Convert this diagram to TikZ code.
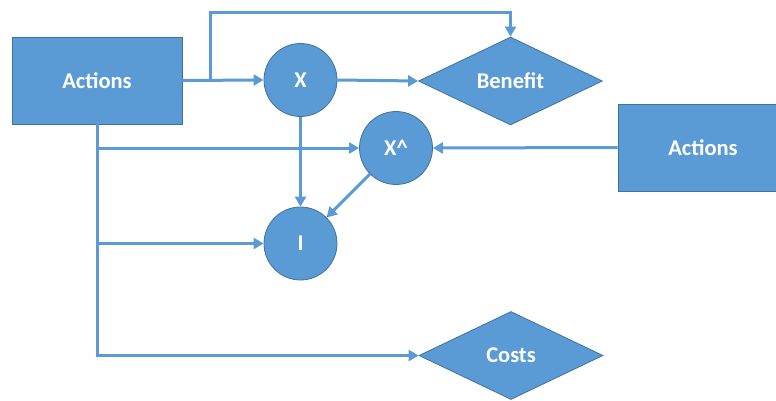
\documentclass[tikz,border=0pt]{standalone}
\usepackage{fontspec}
\setmainfont{Carlito}
\usetikzlibrary{shapes.geometric,arrows.meta}
\definecolor{officeblue}{HTML}{5B9BD5}
\definecolor{officeedge}{HTML}{41719C}
\begin{document}
\begin{tikzpicture}[x=1pt,y=-1pt,
  shape base/.style={draw=officeedge,fill=officeblue,text=white,line width=0.8pt,inner sep=0pt,
    font=\bfseries\fontsize{22.5}{26}\selectfont},
  actbox/.style={shape base,rectangle,minimum width=170pt,minimum height=87pt},
  var/.style={shape base,circle,minimum size=73pt},
  goal/.style={shape base,diamond,aspect=2.08,minimum width=184pt,minimum height=88pt},
  link/.style={draw=officeblue,line width=3pt,-{Triangle[length=10pt,width=11pt]}}]
\useasboundingbox (0,0) rectangle (776,401);
% nodes
\node[actbox] (act) at (97,80.5) {Actions};
\node[actbox] (act2) at (703,147.5) {Actions};
\node[var] (x) at (300.5,80) {X};
\node[var] (xh) at (396,148) {X\textasciicircum};
\node[var] (i) at (300.5,243.5) {I};
\node[goal] (ben) at (510.5,81) {Benefit};
\node[goal] (cost) at (511,355.5) {Costs};
% helper points
\coordinate (split) at (210,80);
\coordinate (over) at (210,13);
% links
\draw[link] (act.east) -- (x.west);
\draw[link] (split) -- (over) -| (ben.north);
\draw[link] (x.east) -- (ben.west);
\draw[link] (x.south) -- (i.north);
\draw[link] (xh) -- (i);
\draw[link] (act2.west) -- (xh.east);
\draw[link] (act.south) |- (cost.west);
\draw[link] (act.south |- xh.west) -- (xh.west);
\draw[link] (act.south |- i.west) -- (i.west);
\end{tikzpicture}
\end{document}
